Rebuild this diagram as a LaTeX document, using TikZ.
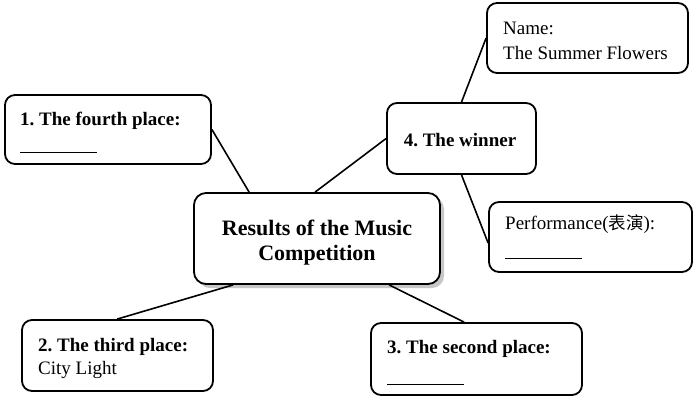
\documentclass[tikz,border=0pt]{standalone}
\usepackage{fontspec}
\setmainfont{Liberation Serif}
\newfontfamily\cjkfont{Noto Sans CJK SC}
\usetikzlibrary{shadows,calc}
\frenchspacing
\begin{document}
\begin{tikzpicture}[x=1pt,y=-1pt,
  box/.style={draw=black, line width=1.8pt, rounded corners=10pt, fill=white, inner sep=0pt},
  conn/.style={draw=black, line width=1.6pt},
  ttl/.style={anchor=base west, inner sep=0pt, font=\fontsize{19}{22}\selectfont\bfseries},
  txt/.style={anchor=base west, inner sep=0pt, font=\fontsize{19}{22}\selectfont},
  blank/.style={draw=black, line width=1pt}]
\useasboundingbox (0,0) rectangle (698,400);
% boxes
\node[box, minimum width=206, minimum height=69] (b1) at (108,129.5) {};
\node[box, minimum width=149, minimum height=71] (w) at (461.5,138.5) {};
\node[box, minimum width=201, minimum height=70] (n) at (587.5,38) {};
\node[box, minimum width=203, minimum height=70] (p) at (590.5,237) {};
\node[box, minimum width=191, minimum height=71] (t) at (117.5,355.5) {};
\node[box, minimum width=211, minimum height=72] (s) at (476.5,359) {};
\node[box, rounded corners=12pt, minimum width=246, minimum height=91,
  drop shadow={shadow xshift=4pt, shadow yshift=-4pt, opacity=0.4, fill=black!55}] (c) at (317,238.5) {};
% connectors
\draw[conn] (b1.east) -- ([xshift=56pt]c.north west);
\draw[conn] ([xshift=122pt]c.north west) -- (w.west);
\draw[conn] (w.north) -- (n.west);
\draw[conn] (w.south) -- ([yshift=-6pt]p.west);
\draw[conn] ([xshift=40pt]c.south west) -- ([xshift=96pt]t.north west);
\draw[conn] ([xshift=196pt]c.south west) -- ([xshift=94pt]s.north west);
% texts
\node[ttl] (b1t) at (20,125) {1. The fourth place:};
\coordinate (b1u) at (20,152);
\draw[blank] (b1u) -- ++(77,0);
\node[txt] (nt1) at (503,34) {Name:};
\node[txt] (nt2) at (503,59) {The Summer Flowers};
\node[ttl, anchor=base] (wt) at (460,146) {4. The winner};
\node[txt] (pt) at (505,229) {Performance({\cjkfont\fontsize{17.5}{22}\selectfont 表演}):};
\coordinate (pu) at (505,258);
\draw[blank] (pu) -- ++(77,0);
\node[ttl] (tt1) at (38,351) {2. The third place:};
\node[txt] (tt2) at (38,374) {City Light};
\node[ttl] (st) at (387,353) {3. The second place:};
\coordinate (su) at (387,384);
\draw[blank] (su) -- ++(77,0);
\node[anchor=base, inner sep=0pt, font=\fontsize{22}{25}\selectfont\bfseries] (ct1) at (317,235) {Results of the Music};
\node[anchor=base, inner sep=0pt, font=\fontsize{22}{25}\selectfont\bfseries] (ct2) at (317,260) {Competition};
\end{tikzpicture}
\end{document}
